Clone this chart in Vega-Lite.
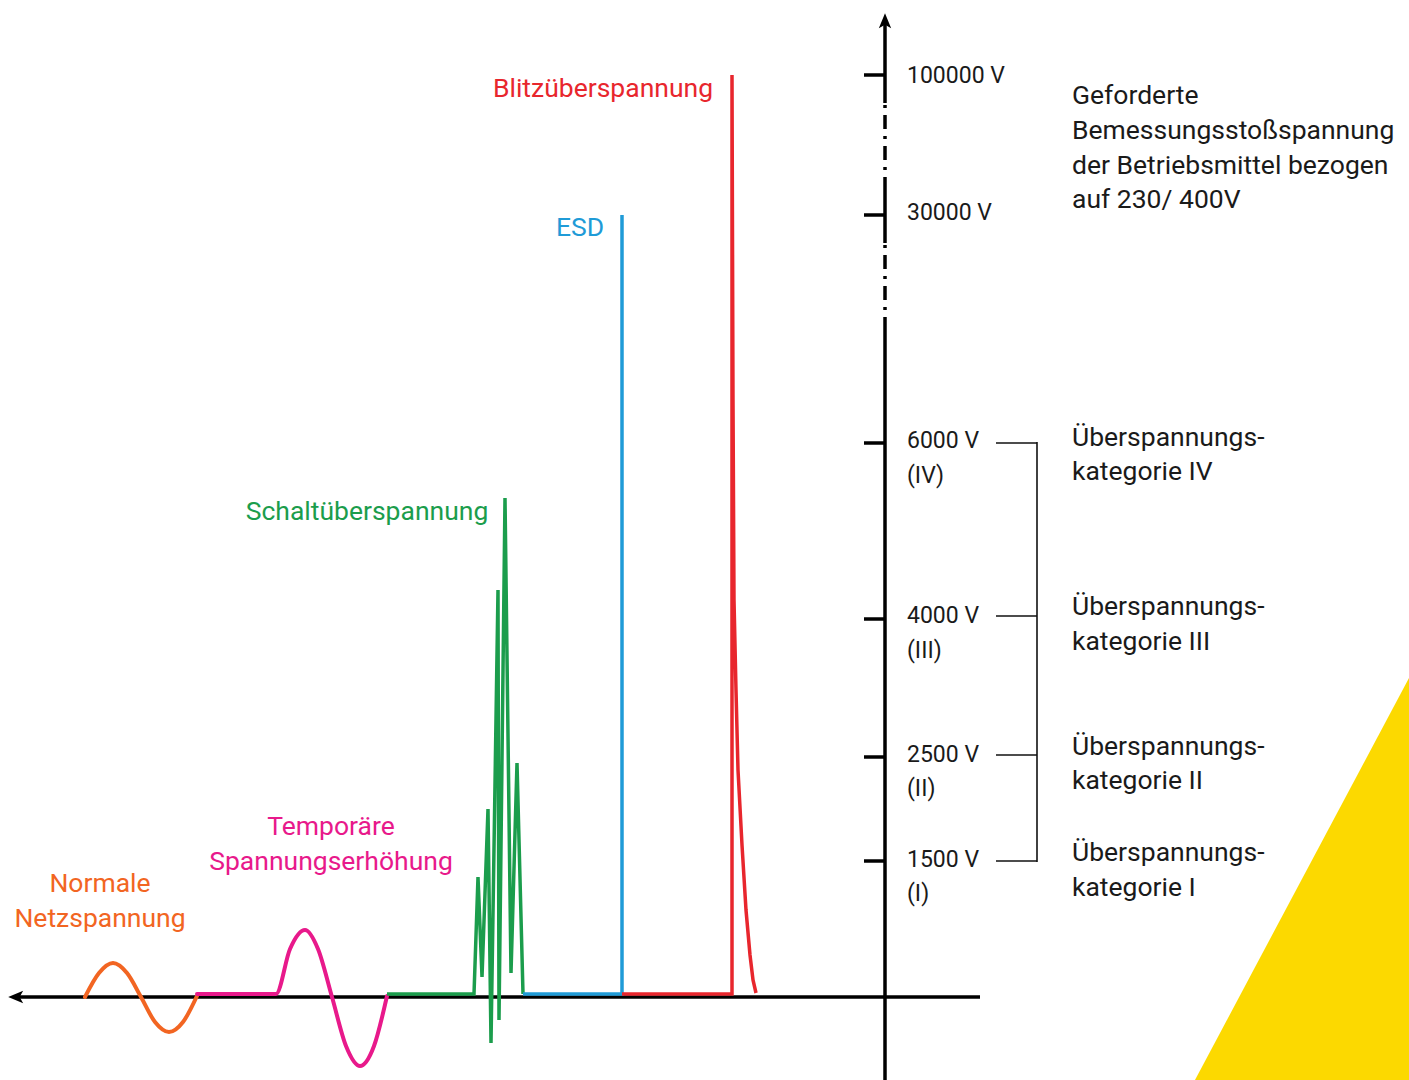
{
  "$schema": "https://vega.github.io/schema/vega-lite/v6.json",
  "width": 1409,
  "height": 1080,
  "padding": 0,
  "autosize": {"type": "none"},
  "background": "white",
  "config": {"view": {"stroke": null}},
  "datasets": {
    "tri": [{"x": 1195, "y": 1080}, {"x": 1409, "y": 678}],
    "segs": [
      {"kind": "solid", "x": 16, "x2": 980, "y": 997, "y2": 997},
      {"kind": "solid", "x": 885, "x2": 885, "y": 1080, "y2": 325},
      {"kind": "solid", "x": 885, "x2": 885, "y": 243, "y2": 187},
      {"kind": "solid", "x": 885, "x2": 885, "y": 103, "y2": 24},
      {"kind": "solid", "x": 864, "x2": 885, "y": 75, "y2": 75},
      {"kind": "solid", "x": 864, "x2": 885, "y": 215, "y2": 215},
      {"kind": "solid", "x": 864, "x2": 885, "y": 443, "y2": 443},
      {"kind": "solid", "x": 864, "x2": 885, "y": 619, "y2": 619},
      {"kind": "solid", "x": 864, "x2": 885, "y": 757, "y2": 757},
      {"kind": "solid", "x": 864, "x2": 885, "y": 861, "y2": 861},
      {"kind": "dash", "x": 885, "x2": 885, "y": 105, "y2": 187},
      {"kind": "dash", "x": 885, "x2": 885, "y": 245, "y2": 325},
      {"kind": "thin", "x": 996, "x2": 1037, "y": 443, "y2": 443},
      {"kind": "thin", "x": 996, "x2": 1037, "y": 616, "y2": 616},
      {"kind": "thin", "x": 996, "x2": 1037, "y": 755, "y2": 755},
      {"kind": "thin", "x": 996, "x2": 1037, "y": 861, "y2": 861},
      {"kind": "thin", "x": 1037, "x2": 1037, "y": 442, "y2": 862}
    ],
    "arrows": [
      {"dir": "up", "x": 885, "y": 22},
      {"dir": "left", "x": 17, "y": 997}
    ],
    "curves": [
      {"s": "orange", "i": 1, "x": 85, "y": 997},
      {"s": "orange", "i": 2, "x": 99, "y": 973},
      {"s": "orange", "i": 3, "x": 113, "y": 963},
      {"s": "orange", "i": 4, "x": 127, "y": 973},
      {"s": "orange", "i": 5, "x": 141, "y": 997},
      {"s": "orange", "i": 6, "x": 155, "y": 1022},
      {"s": "orange", "i": 7, "x": 169, "y": 1032},
      {"s": "orange", "i": 8, "x": 183, "y": 1022},
      {"s": "orange", "i": 9, "x": 197, "y": 996},
      {"s": "magenta", "i": 1, "x": 197, "y": 994},
      {"s": "magenta", "i": 2, "x": 276, "y": 994},
      {"s": "magenta", "i": 3, "x": 290, "y": 949},
      {"s": "magenta", "i": 4, "x": 305, "y": 930},
      {"s": "magenta", "i": 5, "x": 318, "y": 949},
      {"s": "magenta", "i": 6, "x": 332, "y": 997},
      {"s": "magenta", "i": 7, "x": 346, "y": 1046},
      {"s": "magenta", "i": 8, "x": 360, "y": 1066},
      {"s": "magenta", "i": 9, "x": 374, "y": 1046},
      {"s": "magenta", "i": 10, "x": 387, "y": 996}
    ],
    "paths": [
      {"s": "green", "i": 1, "x": 387, "y": 994},
      {"s": "green", "i": 2, "x": 474, "y": 994},
      {"s": "green", "i": 3, "x": 478, "y": 877},
      {"s": "green", "i": 4, "x": 482, "y": 977},
      {"s": "green", "i": 5, "x": 488, "y": 809},
      {"s": "green", "i": 6, "x": 491, "y": 1043},
      {"s": "green", "i": 7, "x": 498, "y": 590},
      {"s": "green", "i": 8, "x": 499, "y": 1020},
      {"s": "green", "i": 9, "x": 505, "y": 498},
      {"s": "green", "i": 10, "x": 511, "y": 973},
      {"s": "green", "i": 11, "x": 517, "y": 763},
      {"s": "green", "i": 12, "x": 523, "y": 994},
      {"s": "blue", "i": 1, "x": 523, "y": 994},
      {"s": "blue", "i": 2, "x": 622, "y": 994},
      {"s": "blue", "i": 3, "x": 622, "y": 215},
      {"s": "red", "i": 1, "x": 622, "y": 994},
      {"s": "red", "i": 2, "x": 732, "y": 994},
      {"s": "red", "i": 3, "x": 732, "y": 75},
      {"s": "red", "i": 4, "x": 733, "y": 400},
      {"s": "red", "i": 5, "x": 734, "y": 600},
      {"s": "red", "i": 6, "x": 736, "y": 690},
      {"s": "red", "i": 7, "x": 738, "y": 770},
      {"s": "red", "i": 8, "x": 742, "y": 845},
      {"s": "red", "i": 9, "x": 746, "y": 910},
      {"s": "red", "i": 10, "x": 750, "y": 955},
      {"s": "red", "i": 11, "x": 753, "y": 980},
      {"s": "red", "i": 12, "x": 756, "y": 993}
    ],
    "clabels": [
      {"s": "red", "text": "Blitzüberspannung", "x": 603, "y": 89},
      {"s": "blue", "text": "ESD", "x": 580, "y": 228},
      {"s": "green", "text": "Schaltüberspannung", "x": 367, "y": 512},
      {"s": "magenta", "text": "Temporäre", "x": 331, "y": 827},
      {"s": "magenta", "text": "Spannungserhöhung", "x": 331, "y": 862},
      {"s": "orange", "text": "Normale", "x": 100, "y": 884},
      {"s": "orange", "text": "Netzspannung", "x": 100, "y": 919}
    ],
    "blabels": [
      {"g": "tick", "text": "100000 V", "x": 907, "y": 76},
      {"g": "tick", "text": "30000 V", "x": 907, "y": 213},
      {"g": "tick", "text": "6000 V", "x": 907, "y": 441},
      {"g": "tick", "text": "(IV)", "x": 907, "y": 476},
      {"g": "tick", "text": "4000 V", "x": 907, "y": 616},
      {"g": "tick", "text": "(III)", "x": 907, "y": 651},
      {"g": "tick", "text": "2500 V", "x": 907, "y": 755},
      {"g": "tick", "text": "(II)", "x": 907, "y": 789},
      {"g": "tick", "text": "1500 V", "x": 907, "y": 860},
      {"g": "tick", "text": "(I)", "x": 907, "y": 894},
      {"g": "desc", "text": "Geforderte", "x": 1072, "y": 96},
      {"g": "desc", "text": "Bemessungsstoßspannung", "x": 1072, "y": 131},
      {"g": "desc", "text": "der Betriebsmittel bezogen", "x": 1072, "y": 166},
      {"g": "desc", "text": "auf 230/ 400V", "x": 1072, "y": 200},
      {"g": "desc", "text": "Überspannungs-", "x": 1072, "y": 438},
      {"g": "desc", "text": "kategorie IV", "x": 1072, "y": 472},
      {"g": "desc", "text": "Überspannungs-", "x": 1072, "y": 607},
      {"g": "desc", "text": "kategorie III", "x": 1072, "y": 642},
      {"g": "desc", "text": "Überspannungs-", "x": 1072, "y": 747},
      {"g": "desc", "text": "kategorie II", "x": 1072, "y": 781},
      {"g": "desc", "text": "Überspannungs-", "x": 1072, "y": 853},
      {"g": "desc", "text": "kategorie I", "x": 1072, "y": 888}
    ]
  },
  "layer": [
    {
      "data": {"name": "tri"},
      "mark": {"type": "area", "color": "#fcd900"},
      "encoding": {
        "x": {"field": "x", "type": "quantitative", "scale": {"domain": [0, 1409], "nice": false, "zero": false}, "axis": null},
        "y": {"field": "y", "type": "quantitative", "scale": {"domain": [0, 1080], "nice": false, "zero": false, "reverse": true}, "axis": null},
        "y2": {"datum": 1080}
      }
    },
    {
      "data": {"name": "segs"},
      "transform": [{"filter": "datum.kind === 'solid'"}],
      "mark": {"type": "rule", "color": "#000000", "strokeWidth": 3.5},
      "encoding": {
        "x": {"field": "x", "type": "quantitative"},
        "x2": {"field": "x2"},
        "y": {"field": "y", "type": "quantitative"},
        "y2": {"field": "y2"}
      }
    },
    {
      "data": {"name": "segs"},
      "transform": [{"filter": "datum.kind === 'dash'"}],
      "mark": {"type": "rule", "color": "#000000", "strokeWidth": 3.5, "strokeDash": [3, 7, 14, 7]},
      "encoding": {
        "x": {"field": "x", "type": "quantitative"},
        "x2": {"field": "x2"},
        "y": {"field": "y", "type": "quantitative"},
        "y2": {"field": "y2"}
      }
    },
    {
      "data": {"name": "segs"},
      "transform": [{"filter": "datum.kind === 'thin'"}],
      "mark": {"type": "rule", "color": "#111111", "strokeWidth": 1.6},
      "encoding": {
        "x": {"field": "x", "type": "quantitative"},
        "x2": {"field": "x2"},
        "y": {"field": "y", "type": "quantitative"},
        "y2": {"field": "y2"}
      }
    },
    {
      "data": {"name": "arrows"},
      "transform": [{"filter": "datum.dir === 'up'"}],
      "mark": {"type": "point", "filled": true, "color": "#000000", "opacity": 1, "size": 310, "shape": "M0,-1L0.7,0.7L0,0.3L-0.7,0.7Z"},
      "encoding": {
        "x": {"field": "x", "type": "quantitative"},
        "y": {"field": "y", "type": "quantitative"}
      }
    },
    {
      "data": {"name": "arrows"},
      "transform": [{"filter": "datum.dir === 'left'"}],
      "mark": {"type": "point", "filled": true, "color": "#000000", "opacity": 1, "size": 310, "shape": "M-1,0L0.7,-0.7L0.3,0L0.7,0.7Z"},
      "encoding": {
        "x": {"field": "x", "type": "quantitative"},
        "y": {"field": "y", "type": "quantitative"}
      }
    },
    {
      "data": {"name": "curves"},
      "mark": {"type": "line", "interpolate": "monotone", "strokeWidth": 4, "strokeCap": "round"},
      "encoding": {
        "x": {"field": "x", "type": "quantitative"},
        "y": {"field": "y", "type": "quantitative"},
        "order": {"field": "i", "type": "quantitative"},
        "color": {"field": "s", "type": "nominal", "legend": null,
          "scale": {"domain": ["orange", "magenta", "green", "blue", "red"], "range": ["#f26522", "#e8198b", "#1b9d4c", "#1f9bd7", "#e8262d"]}}
      }
    },
    {
      "data": {"name": "paths"},
      "mark": {"type": "line", "interpolate": "linear", "strokeWidth": 3.5, "strokeJoin": "miter"},
      "encoding": {
        "x": {"field": "x", "type": "quantitative"},
        "y": {"field": "y", "type": "quantitative"},
        "order": {"field": "i", "type": "quantitative"},
        "color": {"field": "s", "type": "nominal", "legend": null}
      }
    },
    {
      "data": {"name": "clabels"},
      "mark": {"type": "text", "align": "center", "baseline": "middle", "font": "Roboto", "fontSize": 26.5},
      "encoding": {
        "x": {"field": "x", "type": "quantitative"},
        "y": {"field": "y", "type": "quantitative"},
        "text": {"field": "text"},
        "color": {"field": "s", "type": "nominal", "legend": null}
      }
    },
    {
      "data": {"name": "blabels"},
      "transform": [{"filter": "datum.g === 'tick'"}],
      "mark": {"type": "text", "align": "left", "baseline": "middle", "font": "Roboto", "fontSize": 23, "color": "#1a1a1a"},
      "encoding": {
        "x": {"field": "x", "type": "quantitative"},
        "y": {"field": "y", "type": "quantitative"},
        "text": {"field": "text"}
      }
    },
    {
      "data": {"name": "blabels"},
      "transform": [{"filter": "datum.g === 'desc'"}],
      "mark": {"type": "text", "align": "left", "baseline": "middle", "font": "Roboto", "fontSize": 26.5, "color": "#1a1a1a"},
      "encoding": {
        "x": {"field": "x", "type": "quantitative"},
        "y": {"field": "y", "type": "quantitative"},
        "text": {"field": "text"}
      }
    }
  ]
}
